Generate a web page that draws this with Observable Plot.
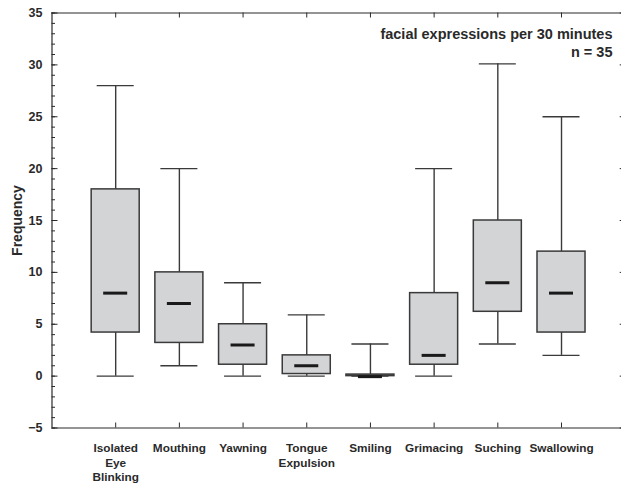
<!DOCTYPE html>
<html>
<head>
<meta charset="utf-8">
<script src="https://cdn.jsdelivr.net/npm/d3@7"></script>
<script src="https://cdn.jsdelivr.net/npm/@observablehq/plot@0.6"></script>
<style>
  html, body { margin: 0; padding: 0; background: #fff; overflow: hidden; }
  #chart { width: 621px; height: 484px; overflow: hidden; }
  #chart svg { display: block; max-width: none !important; overflow: hidden !important; }
</style>
</head>
<body>
<div id="chart"></div>
<script>
const categories = ["Isolated Eye Blinking", "Mouthing", "Yawning", "Tongue Expulsion", "Smiling", "Grimacing", "Suching", "Swallowing"];
const categoryLabels = ["Isolated\nEye\nBlinking", "Mouthing", "Yawning", "Tongue\nExpulsion", "Smiling", "Grimacing", "Suching", "Swallowing"];
const minValues    = [0,   1,   0,   0,   0,   0,   3.1, 2];
const q1Values     = [4.2, 3.2, 1.1, 0.2, 0,   1.1, 6.2, 4.2];
const medianValues = [8,   7,   3,   1,   -0.05, 2, 9,   8];
const q3Values     = [18,  10,  5,   2,   0.15, 8,  15,  12];
const maxValues    = [28,  20,  9,   5.9, 3.1, 20,  30.1, 25];
const yMajorTicks = [-5, 0, 5, 10, 15, 20, 25, 30, 35];
const yMinorTicks = d3.range(-5, 36, 1);
const titleLines = ["facial expressions per 30 minutes", "n = 35"];
const yLabel = "Frequency";

const rows = categories.map((c, i) => ({
  cat: c, label: categoryLabels[i],
  min: minValues[i], q1: q1Values[i], med: medianValues[i], q3: q3Values[i], max: maxValues[i]
}));

const W = 621, H = 484;
const mL = 51.5, mR = -3.7, mT = 12.5, mB = 56.5;
const pw = W - mL - mR, ph = H - mT - mB;
const font = "'Liberation Sans', Arial, Helvetica, sans-serif";
const dark = "#2a2a2a";

const chart = Plot.plot({
  width: W, height: H,
  marginLeft: mL, marginRight: mR, marginTop: mT, marginBottom: mB,
  style: {fontFamily: font, background: "#fff", color: dark, maxWidth: "none", overflow: "hidden"},
  x: {type: "band", domain: categories, paddingInner: 0.246, paddingOuter: 0.623, align: 0.5, round: false, axis: null},
  y: {domain: [-5, 35], axis: null},
  marks: [
    Plot.ruleX(rows, {x: "cat", y1: "min", y2: "max", stroke: "#3a3a3a", strokeWidth: 1.4}),
    Plot.tickY(rows, {x: "cat", y: "min", stroke: "#3a3a3a", strokeWidth: 1.4, insetLeft: 5.5, insetRight: 5.5}),
    Plot.tickY(rows, {x: "cat", y: "max", stroke: "#3a3a3a", strokeWidth: 1.4, insetLeft: 5.5, insetRight: 5.5}),
    Plot.barY(rows, {x: "cat", y1: "q1", y2: "q3", fill: "#d3d4d6", stroke: "#3a3a3a", strokeWidth: 1.5}),
    Plot.tickY(rows, {x: "cat", y: "med", stroke: "#1a1a1a", strokeWidth: 3, insetLeft: 12, insetRight: 12}),
    // frame: top, bottom and left edges (right edge lies beyond the image)
    Plot.ruleY([-5, 35], {y: d => d, stroke: dark, strokeWidth: 1.2}),
    Plot.ruleX([0], {x: null, dx: -pw / 2, stroke: dark, strokeWidth: 1.2}),
    // inward ticks
    Plot.ruleY(yMinorTicks, {y: d => d, insetRight: pw - 3.5, stroke: dark, strokeWidth: 1}),
    Plot.ruleY(yMajorTicks, {y: d => d, insetRight: pw - 6, stroke: dark, strokeWidth: 1}),
    Plot.ruleY(yMajorTicks, {y: d => d, insetLeft: pw - 5, stroke: dark, strokeWidth: 1}),
    Plot.ruleX(categories, {x: d => d, insetBottom: ph - 5, stroke: dark, strokeWidth: 1}),
    Plot.ruleX(categories, {x: d => d, insetTop: ph - 5, stroke: dark, strokeWidth: 1}),
    // labels
    Plot.axisY(yMajorTicks, {ticks: yMajorTicks, tickSize: 0, tickPadding: 9.5, fontSize: 12.5, fontWeight: "bold", fill: dark, label: null}),
    Plot.text([yLabel], {frameAnchor: "left", rotate: -90, dx: -mL + 17.5, fontSize: 14, fontWeight: "bold", fill: dark, textAnchor: "middle"}),
    Plot.text(rows, {x: "cat", text: "label", frameAnchor: "bottom", lineAnchor: "top", dy: 14, fontSize: 11.8, lineHeight: 1.22, fontWeight: "bold", fill: dark}),
    Plot.text([titleLines.join("\n")], {frameAnchor: "top-right", textAnchor: "end", lineAnchor: "top", dx: -12.7, dy: 13.5, fontSize: 14.5, lineHeight: 1.22, fontWeight: "bold", fill: dark})
  ]
});
chart.style.maxWidth = "none";
chart.style.overflow = "hidden";
document.getElementById("chart").appendChild(chart);
</script>
</body>
</html>
